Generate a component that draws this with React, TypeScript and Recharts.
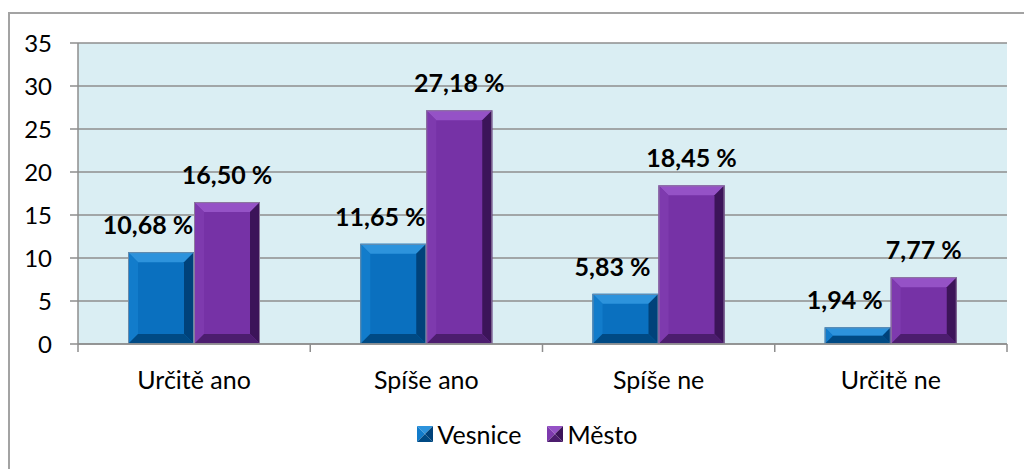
import React from 'react';
import { BarChart, Bar, XAxis, YAxis, CartesianGrid, LabelList } from 'recharts';

const categories = ['Určitě ano', 'Spíše ano', 'Spíše ne', 'Určitě ne'];
const vesnice = [10.68, 11.65, 5.83, 1.94];
const mesto = [16.5, 27.18, 18.45, 7.77];
const seriesNames = ['Vesnice', 'Město'];
const yTicks = [0, 5, 10, 15, 20, 25, 30, 35];
const xTicks = [0, 0.5, 1, 1.5, 2, 2.5, 3, 3.5, 4];

const data = categories.map((c, i) => ({
  pos: i + 0.5,
  name: c,
  vesnice: vesnice[i],
  mesto: mesto[i],
}));

const FONT = 'Lato, "Noto Sans", sans-serif';
const GRID = '#8e8e8e';

type Pal = { face: string; top: string; left: string; right: string; bottom: string; edge: string };
const bluePal: Pal = { face: '#0a70bf', top: '#2d93dc', left: '#127ccb', right: '#00427a', bottom: '#004a84', edge: '#6a8aa8' };
const purplePal: Pal = { face: '#7632a6', top: '#9552c6', left: '#7e3aae', right: '#3c1459', bottom: '#4c1d6e', edge: '#8c7a9c' };

const makeBevel = (pal: Pal) => (props: any) => {
  const { x, y, width: w, height: h } = props;
  if (!h || h <= 0) return <g />;
  const b = Math.min(10, h / 2, w / 2);
  return (
    <g>
      <rect x={x} y={y} width={w} height={h} fill={pal.face} />
      <polygon points={`${x},${y} ${x + w},${y} ${x + w - b},${y + b} ${x + b},${y + b}`} fill={pal.top} />
      <polygon points={`${x},${y} ${x + b},${y + b} ${x + b},${y + h - b} ${x},${y + h}`} fill={pal.left} />
      <polygon points={`${x + w},${y} ${x + w},${y + h} ${x + w - b},${y + h - b} ${x + w - b},${y + b}`} fill={pal.right} />
      <polygon points={`${x},${y + h} ${x + w},${y + h} ${x + w - b},${y + h - b} ${x + b},${y + h - b}`} fill={pal.bottom} />
      <rect x={x + 0.5} y={y + 0.5} width={w - 1} height={h - 1} fill="none" stroke={pal.edge} strokeWidth={1} />
    </g>
  );
};

const fmt = (v: number) => v.toFixed(2).replace('.', ',') + ' %';

const makeLabel = (dx: number) => (props: any) => {
  const { x, y, width, value } = props;
  return (
    <text
      x={x + width / 2 + dx}
      y={y - 28}
      textAnchor="middle"
      dominantBaseline="central"
      fontFamily={FONT}
      fontWeight={700}
      fontSize={25}
      fill="#000"
    >
      {fmt(value)}
    </text>
  );
};

const XTick = (props: any) => {
  const { x, y, payload } = props;
  const v = payload.value as number;
  if (Number.isInteger(v)) {
    return <line x1={x} x2={x} y1={y} y2={y + 8} stroke={GRID} strokeWidth={1.5} />;
  }
  return (
    <text x={x} y={y + 45} textAnchor="middle" fontFamily={FONT} fontSize={25} fill="#000">
      {categories[Math.floor(v)]}
    </text>
  );
};

const LegendMarker = ({ pal }: { pal: Pal }) => (
  <svg width={16} height={16} style={{ display: 'block' }}>
    <polygon points="0,0 16,0 8,8" fill={pal.top} />
    <polygon points="0,0 8,8 0,16" fill={pal.left} />
    <polygon points="16,0 16,16 8,8" fill={pal.right} />
    <polygon points="0,16 16,16 8,8" fill={pal.bottom} />
  </svg>
);

export default function App() {
  const pals = [bluePal, purplePal];
  return (
    <div style={{ position: 'fixed', left: 0, top: 0, width: 1024, height: 469, background: '#fff', overflow: 'hidden' }}>
      <div
        style={{
          position: 'absolute',
          left: 8,
          top: 12,
          width: 1100,
          height: 520,
          border: '2px solid #a3a3a3',
          boxSizing: 'border-box',
        }}
      />
      <div style={{ position: 'absolute', left: 0, top: 0 }}>
        <BarChart
          width={1024}
          height={469}
          data={data}
          margin={{ top: 43, right: 17, left: 0, bottom: 0 }}
          barGap={0}
        >
          <CartesianGrid vertical={false} fill="#daeef3" stroke={GRID} strokeWidth={1.5} />
          <XAxis
            dataKey="pos"
            type="number"
            domain={[0, 4]}
            ticks={xTicks}
            interval={0}
            tickLine={false}
            tickSize={0}
            tickMargin={0}
            axisLine={{ stroke: GRID, strokeWidth: 1.5 }}
            tick={<XTick />}
            height={125}
            allowDataOverflow
          />
          <YAxis
            domain={[0, 35]}
            ticks={yTicks}
            interval={0}
            width={78}
            tickSize={8}
            tickMargin={18}
            axisLine={{ stroke: GRID, strokeWidth: 1.5 }}
            tickLine={{ stroke: GRID, strokeWidth: 1.5 }}
            tick={{ fill: '#000', fontFamily: FONT, fontSize: 24 }}
          />
          <Bar dataKey="vesnice" name={seriesNames[0]} barSize={66} shape={makeBevel(bluePal)} isAnimationActive={false}>
            <LabelList dataKey="vesnice" content={makeLabel(-13)} />
          </Bar>
          <Bar dataKey="mesto" name={seriesNames[1]} barSize={66} shape={makeBevel(purplePal)} isAnimationActive={false}>
            <LabelList dataKey="mesto" content={makeLabel(0)} />
          </Bar>
        </BarChart>
      </div>
      <div
        style={{
          position: 'absolute',
          left: 0,
          width: 1054,
          top: 418,
          height: 32,
          display: 'flex',
          justifyContent: 'center',
          alignItems: 'center',
          gap: 25,
          fontFamily: FONT,
          fontSize: 25,
          color: '#000',
        }}
      >
        {seriesNames.map((n, i) => (
          <div key={n} style={{ display: 'flex', alignItems: 'center', gap: 5 }}>
            <LegendMarker pal={pals[i]} />
            <span>{n}</span>
          </div>
        ))}
      </div>
    </div>
  );
}
